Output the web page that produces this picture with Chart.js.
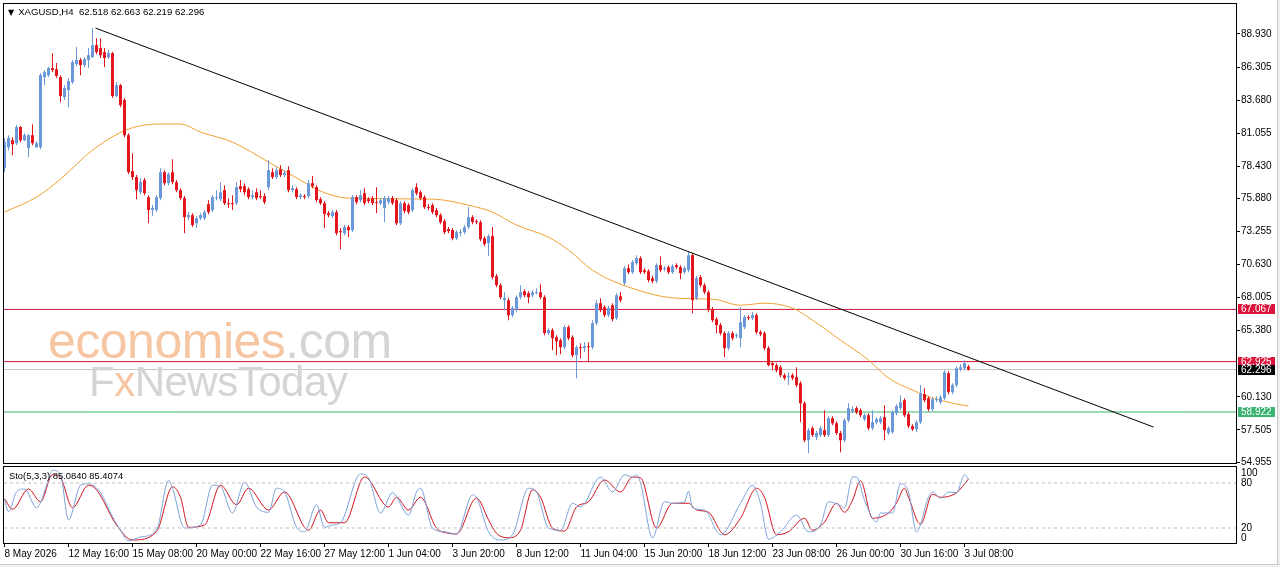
<!DOCTYPE html>
<html lang="en">
<head>
<meta charset="UTF-8">
<title>XAGUSD H4</title>
<script src="https://cdn.jsdelivr.net/npm/chart.js"></script>
<style>
  html, body { margin: 0; padding: 0; background: #fff; }
  body { width: 1280px; height: 567px; position: relative; overflow: hidden; font-family: "Liberation Sans", Arial, sans-serif; }
  #mainBox { position: absolute; left: 0; top: 0; width: 1280px; height: 465px; }
  #stoBox { position: absolute; left: 0; top: 466px; width: 1280px; height: 101px; }
  .txt { position: absolute; white-space: nowrap; color: #000; pointer-events: none; }
  #head { left: 8px; top: 6px; font-size: 9.6px; }
  #head .tri { font-family: "DejaVu Sans", sans-serif; font-size: 8px; margin-right: 4px; }
  #stoLabel { left: 9px; top: 470px; font-size: 9.4px; }
  #wm1 { left: 48px; top: 312px; font-size: 50px; letter-spacing: -0.5px; }
  #wm2 { left: 89px; top: 358px; font-size: 42px; letter-spacing: -0.5px; }
  .peach { color: #f6c6a2; }
  .pale { color: #d4d4d4; }
  #edgeR { position: absolute; left: 1277px; top: 0; width: 3px; height: 567px; background: #f0f0f0; border-left: 1px solid #c8c8c8; box-sizing: border-box; }
  #edgeB { position: absolute; left: 0; top: 564px; width: 1280px; height: 3px; background: #f0f0f0; border-top: 1px solid #c8c8c8; box-sizing: border-box; }
</style>
</head>
<body>
<div id="mainBox"><canvas id="priceChart"></canvas></div>
<div id="stoBox"><canvas id="stoChart"></canvas></div>
<div class="txt" id="head"><span class="tri">&#9660;</span>XAGUSD,H4&nbsp; 62.518 62.663 62.219 62.296</div>
<div class="txt" id="stoLabel">Sto(5,3,3) 85.0840 85.4074</div>
<div class="txt" id="wm1"><span class="peach">economies</span><span class="pale">.com</span></div>
<div class="txt" id="wm2"><span class="pale">F</span><span class="peach">x</span><span class="pale">NewsToday</span></div>
<div id="edgeR"></div>
<div id="edgeB"></div>
<script>
// H4 candles, 8 May - 3 Jul 2026
const opens = [
  78.28, 79.94, 80.50, 80.26, 81.54, 80.50, 79.87, 80.90, 79.94, 79.94,
  85.51, 85.66, 86.22, 86.14, 85.51, 83.92, 84.47, 85.11, 86.54, 86.86,
  86.46, 86.86, 87.09, 88.05, 87.81, 87.49, 87.09, 87.41, 84.00, 84.87,
  83.68, 80.90, 78.04, 77.57, 76.37, 77.33, 75.98, 74.95, 74.95, 75.90,
  77.96, 77.09, 77.96, 77.17, 76.53, 75.90, 74.39, 74.55, 73.91, 74.31,
  74.31, 75.42, 74.95, 75.90, 75.82, 76.53, 75.50, 75.50, 75.50, 76.85,
  76.85, 76.61, 75.98, 76.37, 76.06, 76.06, 76.77, 77.96, 77.57, 78.20,
  77.73, 78.12, 76.53, 76.61, 75.98, 76.06, 76.06, 77.09, 76.77, 75.82,
  75.50, 74.71, 74.47, 74.79, 73.28, 73.12, 73.60, 73.36, 75.98, 75.74,
  76.29, 75.82, 75.90, 75.58, 75.50, 75.11, 75.58, 75.90, 75.74, 73.91,
  75.50, 75.35, 74.95, 76.77, 76.37, 75.98, 75.19, 75.35, 74.95, 74.55,
  74.07, 73.44, 73.36, 72.72, 73.12, 73.20, 73.60, 74.39, 74.07, 73.99,
  72.72, 72.33, 72.88, 69.71, 68.99, 67.80, 67.80, 66.61, 67.01, 68.04,
  68.51, 68.35, 68.19, 68.35, 68.43, 68.04, 65.18, 65.42, 64.86, 64.62,
  64.07, 65.66, 64.86, 63.43, 64.07, 63.99, 64.15, 64.07, 65.98, 67.56,
  67.25, 66.61, 67.40, 66.37, 68.11, 69.15, 70.34, 70.02, 70.74, 71.14,
  70.18, 70.10, 69.55, 69.31, 70.58, 70.26, 70.42, 70.02, 70.58, 70.42,
  70.02, 70.18, 71.37, 67.96, 69.63, 68.99, 68.43, 67.09, 66.29, 65.82,
  65.18, 63.99, 65.18, 64.94, 64.78, 65.66, 66.45, 66.37, 66.61, 65.26,
  65.18, 63.99, 62.80, 62.64, 62.48, 61.85, 61.69, 61.85, 61.69, 61.21,
  59.62, 56.68, 57.64, 56.93, 57.09, 57.48, 57.09, 58.43, 58.03, 57.25,
  56.68, 58.27, 58.99, 59.23, 59.07, 58.35, 58.67, 57.64, 58.11, 58.11,
  58.51, 57.25, 57.33, 58.83, 59.23, 59.86, 58.75, 57.80, 57.56, 58.11,
  60.34, 60.02, 59.15, 59.86, 59.70, 60.02, 62.00, 60.50, 61.06, 62.32,
  62.40, 62.518
];
const highs = [
  80.66, 80.90, 80.74, 81.70, 81.62, 81.06, 80.98, 81.77, 80.42, 85.82,
  86.06, 86.30, 87.41, 86.62, 85.66, 84.87, 85.43, 86.86, 87.89, 87.02,
  87.09, 87.81, 89.40, 88.60, 88.60, 87.81, 87.65, 87.49, 85.11, 84.95,
  83.84, 81.06, 79.47, 77.73, 77.49, 77.49, 76.13, 75.35, 76.13, 78.28,
  78.12, 77.96, 78.99, 77.33, 76.69, 76.06, 74.79, 74.71, 74.47, 74.71,
  74.95, 75.74, 76.13, 76.53, 77.17, 76.93, 75.90, 76.13, 77.17, 77.33,
  77.09, 76.77, 76.53, 76.69, 76.53, 76.29, 78.92, 78.28, 78.36, 78.52,
  78.12, 78.44, 76.93, 76.77, 76.29, 76.21, 77.33, 77.65, 76.93, 75.98,
  75.66, 74.87, 74.95, 74.95, 73.52, 73.76, 73.76, 76.13, 76.13, 76.53,
  76.69, 75.98, 76.06, 76.77, 75.90, 76.06, 76.06, 76.06, 75.90, 75.66,
  75.66, 75.50, 76.69, 77.09, 76.53, 76.13, 75.42, 75.50, 75.11, 74.71,
  74.23, 73.60, 73.52, 73.36, 73.44, 73.76, 75.19, 74.55, 74.23, 74.15,
  72.88, 73.04, 73.60, 69.87, 69.15, 68.43, 67.96, 67.33, 68.19, 68.99,
  68.67, 68.51, 68.59, 68.75, 69.07, 68.19, 65.58, 65.58, 65.02, 64.78,
  65.82, 65.82, 65.02, 64.23, 64.39, 64.47, 64.47, 66.21, 67.80, 67.96,
  67.40, 67.33, 67.56, 68.35, 68.43, 70.50, 70.66, 70.98, 71.37, 71.29,
  70.34, 70.26, 69.71, 70.74, 71.29, 70.50, 70.58, 70.66, 70.74, 70.58,
  70.50, 71.61, 71.53, 69.71, 69.79, 69.15, 68.59, 67.25, 66.45, 65.98,
  65.34, 65.34, 65.34, 65.18, 67.25, 66.61, 66.61, 66.85, 66.77, 65.42,
  65.34, 64.15, 62.96, 62.80, 62.64, 62.00, 62.08, 62.00, 62.48, 61.37,
  59.78, 57.64, 57.80, 57.41, 57.80, 59.07, 58.59, 58.59, 58.19, 57.41,
  58.43, 59.62, 59.39, 59.39, 59.23, 58.83, 58.83, 59.07, 58.51, 58.59,
  59.46, 57.80, 59.07, 59.54, 60.26, 60.02, 58.91, 57.95, 58.27, 61.06,
  60.81, 60.18, 60.10, 60.18, 60.26, 62.24, 62.16, 61.21, 62.56, 62.72,
  63.04, 62.663
];
const lows = [
  77.96, 79.71, 79.31, 80.10, 80.34, 80.42, 79.15, 80.10, 79.87, 79.79,
  84.87, 85.51, 85.90, 85.43, 83.52, 83.68, 83.12, 84.95, 86.38, 85.66,
  86.30, 86.22, 87.02, 87.33, 87.02, 86.30, 86.94, 83.84, 83.92, 83.12,
  80.74, 77.81, 77.33, 75.82, 76.21, 76.13, 73.91, 74.47, 74.79, 75.74,
  76.93, 76.93, 77.01, 76.37, 75.74, 73.12, 74.15, 73.60, 73.52, 74.15,
  74.15, 74.63, 74.79, 75.74, 75.66, 75.35, 75.11, 74.95, 75.35, 76.37,
  76.13, 75.82, 75.82, 75.74, 75.82, 75.42, 76.53, 77.41, 77.41, 77.57,
  77.57, 76.37, 76.37, 75.82, 75.82, 75.82, 75.90, 76.69, 75.58, 75.35,
  73.52, 74.39, 74.31, 72.96, 71.85, 72.96, 72.80, 73.20, 75.42, 75.58,
  75.35, 75.50, 75.35, 74.71, 75.35, 73.99, 75.42, 75.35, 73.76, 73.76,
  74.71, 74.63, 74.79, 76.13, 75.74, 75.03, 74.95, 74.63, 74.39, 73.83,
  73.04, 73.12, 72.56, 72.56, 72.88, 73.04, 73.44, 73.83, 73.83, 72.48,
  72.09, 71.29, 69.47, 68.83, 67.88, 67.01, 66.21, 66.45, 66.85, 67.88,
  68.04, 67.56, 68.04, 68.27, 67.88, 65.02, 65.02, 63.83, 63.43, 63.51,
  63.91, 64.62, 63.27, 61.61, 63.20, 63.67, 62.88, 63.91, 65.82, 66.85,
  66.45, 66.45, 66.13, 66.21, 67.64, 68.99, 69.87, 69.87, 70.58, 69.87,
  69.87, 69.23, 69.15, 69.15, 70.02, 70.10, 69.87, 69.87, 70.26, 69.47,
  69.87, 70.02, 66.77, 67.80, 68.83, 68.27, 66.85, 66.05, 65.18, 65.02,
  63.27, 63.83, 64.62, 64.78, 64.07, 65.50, 66.21, 66.21, 65.10, 64.94,
  63.83, 62.56, 62.24, 62.08, 61.69, 61.45, 61.06, 61.45, 60.89, 58.11,
  56.52, 55.65, 56.93, 56.68, 56.93, 56.93, 56.93, 57.87, 57.09, 55.73,
  56.52, 58.11, 58.83, 58.75, 58.51, 58.19, 57.48, 57.48, 57.95, 57.95,
  56.68, 57.09, 57.17, 58.67, 59.07, 58.51, 57.64, 57.41, 57.33, 57.95,
  59.70, 58.99, 58.99, 59.70, 59.54, 59.86, 60.34, 60.34, 60.89, 62.16,
  62.24, 62.219
];
const closes = [
  80.34, 80.66, 80.18, 81.54, 80.50, 80.90, 80.90, 80.26, 80.26, 85.67,
  85.90, 86.22, 86.06, 85.59, 84.00, 84.63, 85.19, 86.70, 86.86, 86.46,
  86.94, 87.25, 88.05, 87.49, 87.25, 87.02, 87.41, 84.00, 84.87, 83.28,
  80.90, 77.96, 77.57, 76.53, 77.17, 76.29, 74.95, 75.11, 75.98, 77.96,
  77.09, 77.81, 77.17, 76.53, 75.90, 74.39, 74.55, 73.76, 74.31, 74.55,
  74.79, 74.79, 75.98, 75.98, 76.37, 75.50, 75.42, 75.42, 76.77, 76.61,
  76.37, 75.98, 76.13, 75.90, 75.98, 75.58, 78.12, 77.57, 78.12, 77.73,
  77.89, 76.53, 76.69, 75.98, 76.13, 75.98, 77.09, 76.85, 75.74, 75.50,
  74.63, 74.55, 74.79, 73.12, 73.20, 73.60, 73.36, 75.98, 75.58, 76.13,
  75.50, 75.66, 75.50, 75.50, 75.74, 75.90, 75.90, 75.50, 73.91, 75.50,
  74.87, 74.79, 76.53, 76.29, 75.90, 75.19, 75.11, 74.79, 74.55, 73.99,
  73.20, 73.28, 72.72, 73.20, 73.20, 73.60, 74.39, 73.99, 73.99, 72.64,
  72.25, 72.88, 69.63, 68.99, 68.04, 67.96, 66.61, 67.17, 68.04, 68.43,
  68.19, 68.04, 68.43, 68.43, 68.04, 65.18, 65.42, 64.78, 64.54, 64.07,
  65.66, 64.78, 63.43, 64.07, 63.99, 64.15, 64.07, 65.98, 67.56, 67.01,
  66.61, 67.17, 66.29, 68.19, 67.80, 70.34, 70.02, 70.82, 71.14, 70.02,
  70.02, 69.39, 69.31, 70.58, 70.18, 70.34, 70.02, 70.50, 70.42, 69.94,
  70.34, 71.37, 67.80, 69.55, 68.99, 68.43, 67.01, 66.21, 65.82, 65.18,
  63.99, 65.18, 64.78, 65.02, 66.05, 66.45, 66.37, 66.61, 65.26, 65.10,
  63.99, 62.64, 62.64, 62.24, 61.85, 61.61, 61.77, 61.61, 61.06, 59.62,
  56.68, 57.48, 57.09, 57.25, 57.64, 57.09, 58.43, 58.03, 57.25, 56.68,
  58.27, 59.23, 59.15, 58.91, 58.67, 58.67, 57.64, 58.11, 58.35, 58.43,
  57.48, 57.64, 58.91, 59.39, 59.70, 58.67, 57.80, 57.56, 58.11, 60.42,
  59.86, 59.15, 59.94, 59.94, 60.10, 62.08, 60.50, 61.06, 62.40, 62.48,
  62.80, 62.296
];

// moving average (orange) read as [bar, price]
const maLine = [
  [0, 74.79], [8, 75.98], [14, 77.41], [22, 79.71], [31, 81.38], [39, 81.78],
  [44, 81.78], [49, 81.14], [57, 80.35], [66, 78.76], [74, 77.33], [79, 76.46],
  [86, 75.90], [107, 75.82], [116, 75.34], [122, 74.79], [128, 73.76], [136, 72.80],
  [141, 71.78], [147, 70.18], [154, 69.07], [168, 67.96], [177, 67.88], [184, 67.40],
  [190, 67.56], [197, 67.17], [202, 66.22], [209, 64.63], [216, 63.05], [221, 61.62],
  [227, 60.66], [232, 60.03], [237, 59.63], [241, 59.40]
];
// hand-drawn trend line, [bar, price]
const trendLine = [[22.75, 89.40], [287.25, 57.73]];
// horizontal levels
const levelValues = [67.067, 62.925, 62.296, 58.922];
const priceTicks = [88.930, 86.305, 83.680, 81.055, 78.430, 75.880, 73.255, 70.630, 68.005, 65.380, 60.130, 57.505, 54.955];

// stochastic (5,3,3): main and signal, [bar, value]
const stoMain = [
  [0, 58], [1, 42], [3, 68], [5, 72], [8, 47], [11, 84], [12, 97], [14, 91], [16, 31], [19, 77],
  [21, 79], [24, 67], [27, 35], [29, 17], [31, 3], [34, 8], [38, 17], [41, 83], [42, 73], [45, 20],
  [49, 24], [52, 77], [54, 75], [57, 40], [60, 81], [63, 48], [66, 41], [68, 73], [70, 68], [73, 21],
  [75, 15], [78, 51], [80, 21], [82, 24], [84, 27], [89, 92], [91, 87], [94, 40], [97, 67], [101, 37],
  [103, 68], [104, 73], [107, 20], [110, 15], [113, 12], [117, 64], [118, 61], [121, 15], [124, 4], [127, 11],
  [131, 73], [133, 68], [136, 20], [139, 17], [142, 53], [144, 48], [149, 88], [152, 68], [155, 91], [157, 88],
  [158, 91], [159, 80], [162, 7], [165, 55], [167, 53], [170, 55], [171, 69], [172, 47], [175, 44], [179, 11],
  [184, 53], [187, 77], [189, 53], [191, 5], [194, 15], [198, 37], [201, 15], [204, 24], [206, 55], [209, 50],
  [210, 47], [212, 88], [213, 88], [215, 57], [218, 28], [219, 40], [222, 40], [224, 79], [226, 68], [228, 15],
  [231, 61], [232, 68], [234, 60], [236, 68], [238, 67], [240, 91], [241, 85.08]
];
const stoSignal = [
  [0, 59], [2, 45], [6, 72], [9, 55], [12, 91], [14, 87], [17, 47], [21, 77], [23, 71], [28, 24],
  [32, 4], [38, 15], [42, 75], [44, 61], [46, 21], [50, 24], [54, 77], [58, 51], [61, 73], [66, 44],
  [70, 68], [76, 17], [79, 44], [81, 27], [85, 27], [90, 88], [96, 48], [98, 61], [101, 44], [104, 61],
  [108, 20], [111, 13], [113, 12], [118, 60], [121, 31], [123, 13], [126, 7], [129, 17], [132, 71], [134, 61],
  [137, 20], [140, 16], [143, 48], [146, 55], [150, 84], [154, 68], [157, 88], [159, 87], [163, 20], [167, 53],
  [171, 53], [173, 44], [176, 41], [180, 11], [184, 33], [188, 73], [190, 61], [193, 11], [196, 15], [200, 33],
  [202, 17], [205, 28], [208, 53], [210, 41], [212, 57], [214, 83], [217, 33], [221, 40], [223, 53], [225, 73],
  [226, 61], [229, 25], [232, 65], [234, 61], [238, 67], [241, 85.41]
];
const stoLevels = [80, 20];
const stoAxisLabels = [100, 80, 20, 0];

// time axis
const timeIdx = [0, 16, 32, 48, 64, 80, 96, 112, 128, 144, 160, 176, 192, 208, 224, 240];
const timeLabels = ["8 May 2026", "12 May 16:00", "15 May 08:00", "20 May 00:00", "22 May 16:00",
  "27 May 12:00", "1 Jun 04:00", "3 Jun 20:00", "8 Jun 12:00", "11 Jun 04:00", "15 Jun 20:00",
  "18 Jun 12:00", "23 Jun 08:00", "26 Jun 00:00", "30 Jun 16:00", "3 Jul 08:00"];

const X_MIN = -0.125, X_MAX = 307.875;
const UP = '#6b98d8', DOWN = '#e3161e';
const levelLine = ['#d2143a', '#d2143a', '#c4c4c4', '#3cb371'];
const levelTag = ['#dc143c', '#dc143c', '#000000', '#3cb371'];
const FONT = '"Liberation Sans", Arial, sans-serif';

const candleColors = opens.map((o, i) => closes[i] >= o ? UP : DOWN);
const pts = arr => arr.map(p => ({ x: p[0], y: p[1] }));

// black frame round the plot area
const framePlugin = {
  id: 'frame',
  afterDraw(chart) {
    const { ctx, chartArea: a } = chart;
    ctx.save();
    ctx.strokeStyle = '#000';
    ctx.lineWidth = 1;
    ctx.strokeRect(a.left - 0.5, a.top - 0.5, a.right - a.left + 1, a.bottom - a.top + 1);
    ctx.restore();
  }
};

// coloured price tags on the right axis
const tagPlugin = {
  id: 'tags',
  afterDraw(chart) {
    const ys = chart.scales.y, ctx = chart.ctx;
    ctx.save();
    ctx.font = '10px ' + FONT;
    ctx.textBaseline = 'middle';
    levelValues.forEach((v, k) => {
      const py = Math.round(ys.getPixelForValue(v));
      ctx.fillStyle = levelTag[k];
      ctx.fillRect(1238, py - 5, 37, 10);
      ctx.fillStyle = '#fff';
      ctx.fillText(v.toFixed(3), 1241, py);
    });
    ctx.restore();
  }
};

const noPad = s => { s.paddingTop = 0; s.paddingBottom = 0; s.paddingLeft = 0; s.paddingRight = 0; };

const priceCtx = document.getElementById('priceChart').getContext('2d');
new Chart(priceCtx, {
  type: 'bar',
  data: {
    datasets: [
      ...levelValues.map((v, k) => ({
        type: 'line', data: [{ x: X_MIN, y: v }, { x: X_MAX, y: v }],
        borderColor: levelLine[k], borderWidth: 1, pointRadius: 0, order: 5
      })),
      {
        type: 'line', data: pts(maLine), borderColor: '#f0a030', borderWidth: 1,
        pointRadius: 0, cubicInterpolationMode: 'monotone', order: 4
      },
      {
        label: 'wick', data: lows.map((l, i) => ({ x: i, y: [l, highs[i]] })),
        backgroundColor: candleColors, barThickness: 1, grouped: false,
        inflateAmount: 0, order: 3
      },
      {
        label: 'body', data: opens.map((o, i) => ({ x: i, y: [o, closes[i]] })),
        backgroundColor: candleColors, barThickness: 3, grouped: false,
        inflateAmount: 0, minBarLength: 1, order: 2
      },
      {
        type: 'line', data: pts(trendLine), borderColor: '#000', borderWidth: 1,
        pointRadius: 0, order: 1
      }
    ]
  },
  options: {
    responsive: true,
    maintainAspectRatio: false,
    animation: false,
    layout: { padding: { left: 4, top: 4, right: 0, bottom: 2 } },
    plugins: { legend: { display: false }, tooltip: { enabled: false } },
    scales: {
      x: { type: 'linear', min: X_MIN, max: X_MAX, offset: false, display: false },
      y: {
        position: 'right', min: 54.876, max: 91.31,
        afterBuildTicks: s => { s.ticks = priceTicks.map(v => ({ value: v })); },
        afterFit: s => { s.width = 44; noPad(s); },
        ticks: {
          autoSkip: false, padding: 1, color: '#000',
          font: { family: FONT, size: 10 },
          callback: v => v.toFixed(3)
        },
        grid: { drawOnChartArea: false, tickLength: 4, color: '#000' },
        border: { display: false }
      }
    }
  },
  plugins: [framePlugin, tagPlugin]
});

// level labels of the stochastic window (100 and 0 sit inside the frame)
const stoTextPlugin = {
  id: 'stoText',
  afterDraw(chart) {
    const ys = chart.scales.y, ctx = chart.ctx;
    ctx.save();
    ctx.font = '10px ' + FONT;
    ctx.fillStyle = '#000';
    ctx.textBaseline = 'middle';
    stoAxisLabels.forEach(v => {
      const shift = v === 100 ? 5 : (v === 0 ? -5 : 0);
      ctx.fillText(String(v), 1241, Math.round(ys.getPixelForValue(v)) + shift);
    });
    ctx.restore();
  }
};

const stoCtx = document.getElementById('stoChart').getContext('2d');
new Chart(stoCtx, {
  type: 'line',
  data: {
    datasets: [
      ...stoLevels.map(v => ({
        data: [{ x: X_MIN, y: v }, { x: X_MAX, y: v }],
        borderColor: '#c0c0c0', borderWidth: 1, borderDash: [3, 3], pointRadius: 0
      })),
      {
        data: pts(stoMain), borderColor: '#7aa2d8', borderWidth: 1,
        pointRadius: 0, cubicInterpolationMode: 'monotone'
      },
      {
        data: pts(stoSignal), borderColor: '#d0101c', borderWidth: 1,
        pointRadius: 0, cubicInterpolationMode: 'monotone'
      }
    ]
  },
  options: {
    responsive: true,
    maintainAspectRatio: false,
    animation: false,
    layout: { padding: { left: 4, top: 1, right: 0, bottom: 0 } },
    plugins: { legend: { display: false }, tooltip: { enabled: false } },
    scales: {
      x: {
        type: 'linear', min: X_MIN, max: X_MAX, offset: false,
        afterBuildTicks: s => { s.ticks = timeIdx.map(v => ({ value: v })); },
        afterFit: s => { s.height = 24; noPad(s); },
        ticks: {
          autoSkip: false, maxRotation: 0, align: 'start', padding: 1, color: '#000',
          font: { family: FONT, size: 10 },
          callback: v => timeLabels[timeIdx.indexOf(v)]
        },
        grid: { drawOnChartArea: false, tickLength: 4, color: '#000' },
        border: { display: false }
      },
      y: {
        position: 'right', min: 0, max: 101.33,
        afterFit: s => { s.width = 44; noPad(s); },
        ticks: { display: false },
        grid: { display: false },
        border: { display: false }
      }
    }
  },
  plugins: [framePlugin, stoTextPlugin]
});
</script>
</body>
</html>
